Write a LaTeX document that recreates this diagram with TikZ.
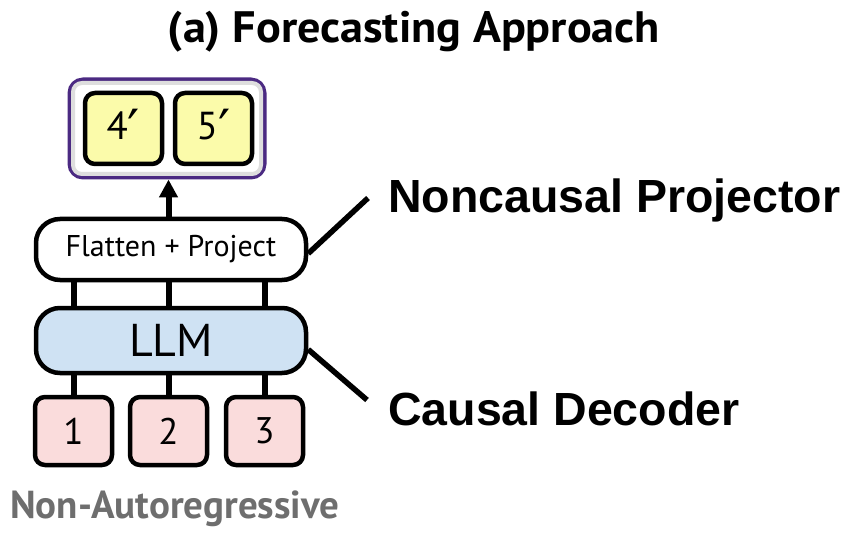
\documentclass[tikz,border=0pt]{standalone}
\usepackage{fontspec}
\setmainfont{PT Sans}
\newfontfamily\arialfont{Liberation Sans}
\newfontfamily\djvfont{DejaVu Sans}
\usetikzlibrary{arrows.meta}
\definecolor{yel}{HTML}{FBFBAA}
\definecolor{pnk}{HTML}{FADCDC}
\definecolor{blu}{HTML}{CFE2F3}
\definecolor{purp}{HTML}{4B2A82}
\definecolor{gtxt}{HTML}{6E6E6E}
\newcommand{\prm}{{\djvfont\fontsize{54}{54}\selectfont\raisebox{-9pt}{′}}}
\tikzset{
  tok/.style={draw=black, line width=4.5pt, rounded corners=10pt, minimum width=77pt, minimum height=70pt, inner sep=0pt, font=\fontsize{37}{37}\selectfont},
  bar/.style={draw=black, line width=4.5pt, rounded corners=24pt, minimum width=270pt, inner sep=0pt},
  conn/.style={line width=6pt},
  lbl/.style={font=\arialfont\bfseries\fontsize{46.5}{46.5}\selectfont, anchor=base west, inner sep=0pt},
  ptr/.style={line width=5.5pt}
}
\begin{document}
\begin{tikzpicture}[x=1pt,y=-1pt]
\useasboundingbox (0,0) rectangle (858,534);
% title
\node[anchor=base, inner sep=0pt, xscale=1.05, font=\bfseries\fontsize{44}{44}\selectfont] (title) at (414,43) {(a) Forecasting Approach};
% output group
\node[draw=purp, line width=5pt, rounded corners=13pt, fill=white, minimum width=194pt, minimum height=97pt] (outer) at (167,128.5) {};
\draw[black!13, line width=4pt, rounded corners=9pt] ([shift={(5.5pt,5.5pt)}]outer.south west) rectangle ([shift={(-5.5pt,-5.5pt)}]outer.north east);
\node[tok, fill=yel, minimum height=71pt, font=\fontsize{39}{39}\selectfont] (y4) at (123.5,128.5) {4\prm};
\node[tok, fill=yel, minimum height=71pt, font=\fontsize{39}{39}\selectfont] (y5) at (213.5,128.5) {5\prm};
% bars
\node[bar, fill=white, minimum height=61pt, font=\fontsize{30}{30}\selectfont] (flat) at (171,249.5) {Flatten + Project};
\node[bar, fill=blu, minimum height=65pt, font=\fontsize{46}{46}\selectfont] (llm) at (171,340.5) {LLM};
% input tokens
\node[tok, fill=pnk, minimum height=68pt] (b1) at (73.5,431) {1};
\node[tok, fill=pnk, minimum height=68pt] (b2) at (168.5,431) {2};
\node[tok, fill=pnk, minimum height=68pt] (b3) at (264.5,431) {3};
% connectors
\foreach \b in {b1,b2,b3}{
  \draw[conn] (\b.north) -- (\b.north |- llm.south);
  \draw[conn] (\b.north |- llm.north) -- (\b.north |- flat.south);
}
\draw[conn, -{Triangle[length=18pt,width=18pt]}] (flat.north -| b2.north) -- (outer.south -| b2.north);
% bottom label
\node[anchor=base west, inner sep=0pt, text=gtxt, font=\bfseries\fontsize{39}{39}\selectfont] (nar) at (10,518) {Non-Autoregressive};
% side labels
\node[lbl] (nc) at (388,213) {Noncausal Projector};
\node[lbl] (cd) at (388,425) {Causal Decoder};
\coordinate (ncend) at (368,198);
\coordinate (cdend) at (367,400);
\draw[ptr] ([yshift=-4pt]flat.east) -- (ncend);
\draw[ptr] ([yshift=-9pt]llm.east) -- (cdend);
\end{tikzpicture}
\end{document}
